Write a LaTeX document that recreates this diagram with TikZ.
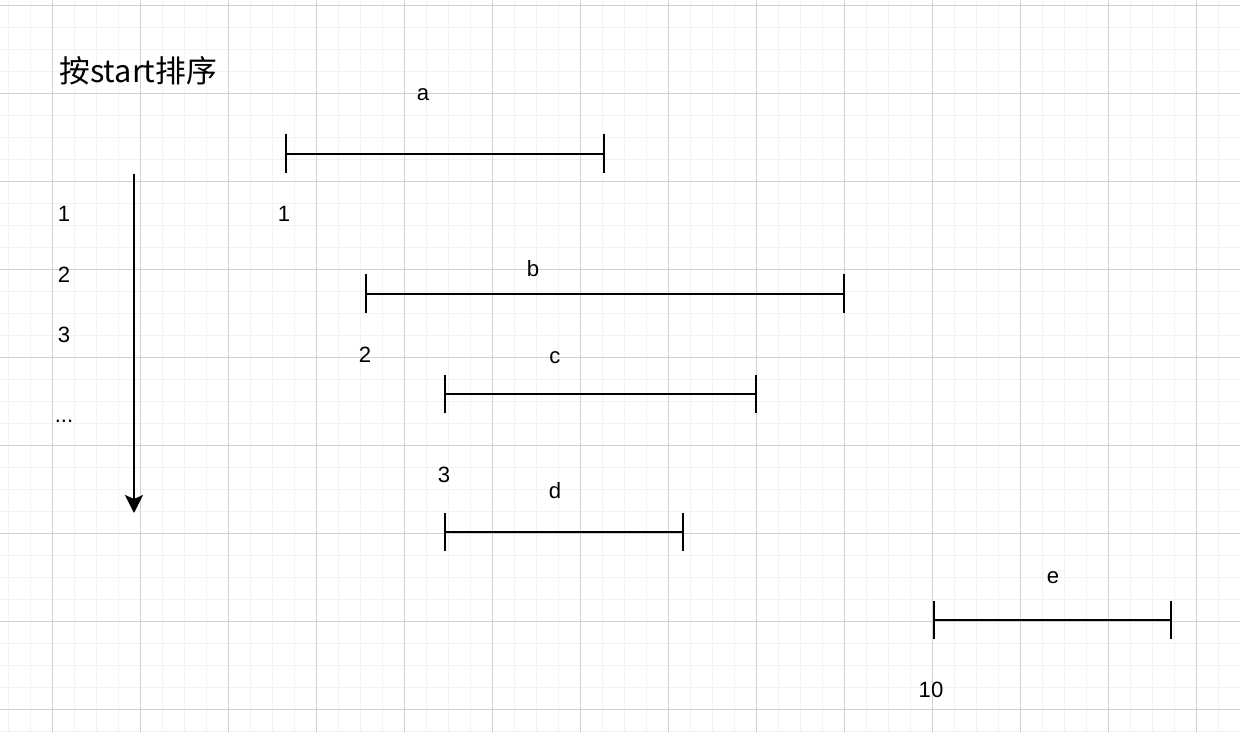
\documentclass[tikz,border=0pt]{standalone}
\usepackage{fontspec}
\setmainfont{Liberation Sans}
\newfontfamily\cjk{Noto Sans CJK SC}
\usetikzlibrary{arrows.meta}
\definecolor{majorgrid}{HTML}{D0D0D0}
\definecolor{minorgrid}{HTML}{F2F2F2}

\begin{document}
\begin{tikzpicture}[x=0.02cm, y=-0.02cm,
            minorline/.style={draw=minorgrid, line width=0.6pt},
            majorline/.style={draw=majorgrid, line width=0.6pt},
            label/.style={inner sep=0pt, anchor=base, font=\fontsize{12.6}{14}\selectfont},
            seg/.style={line width=1.15pt, {Bar[width=0.78cm]}-{Bar[width=0.78cm]}},
            arrow/.style={line width=1.15pt, -{Stealth[length=0.36cm, width=0.36cm, inset=0.08cm]}}]

            % Background grid
            \fill[white] (0,0) rectangle (1240,732);
            \useasboundingbox (0,0) rectangle (1240,732);
            \foreach \gx in {8.3,30.3,...,1240} \draw[minorline] (\gx,0) -- (\gx,732);
            \foreach \gy in {5.3,27.3,...,732} \draw[minorline] (0,\gy) -- (1240,\gy);
            \foreach \gx in {52.3,140.3,...,1240} \draw[majorline] (\gx,0) -- (\gx,732);
            \foreach \gy in {5.3,93.3,...,732} \draw[majorline] (0,\gy) -- (1240,\gy);

            % Nodes
            \node (title) [inner sep=0pt, anchor=base west, font=\cjk\fontsize{17.5}{20}\selectfont] at (59,83) {按start排序};
            \node (rankOne) [label] at (64,222) {1};
            \node (rankTwo) [label] at (64,283) {2};
            \node (rankThree) [label] at (64,343) {3};
            \node (rankMore) [label] at (64,423) {...};

            \node (labA) [label] at (423,101) {a};
            \node (startA) [label] at (284,222) {1};
            \node (labB) [label] at (533,277) {b};
            \node (startB) [label] at (365,363) {2};
            \node (labC) [label] at (555,364) {c};
            \node (startC) [label] at (444,483) {3};
            \node (labD) [label] at (555,499) {d};
            \node (labE) [label] at (1053,583) {e};
            \node (startE) [label] at (931,697) {10};

            % Interval ends
            \coordinate (aL) at (285,154);
            \coordinate (aR) at (605,154);
            \coordinate (bL) at (365,294);
            \coordinate (bR) at (845,294);
            \coordinate (cL) at (444,394);
            \coordinate (cR) at (757,394);
            \coordinate (dL) at (444,532);
            \coordinate (dR) at (684,532);
            \coordinate (eL) at (933,620);
            \coordinate (eR) at (1172,620);
            \coordinate (sortTop) at (134,174);
            \coordinate (sortEnd) at (134,513);

            % Arrows
            \draw [arrow] (sortTop) -- (sortEnd);
            \draw [seg] (aL) -- (aR);
            \draw [seg] (bL) -- (bR);
            \draw [seg] (cL) -- (cR);
            \draw [seg] (dL) -- (dR);
            \draw [seg] (eL) -- (eR);
        \end{tikzpicture}
\end{document}
